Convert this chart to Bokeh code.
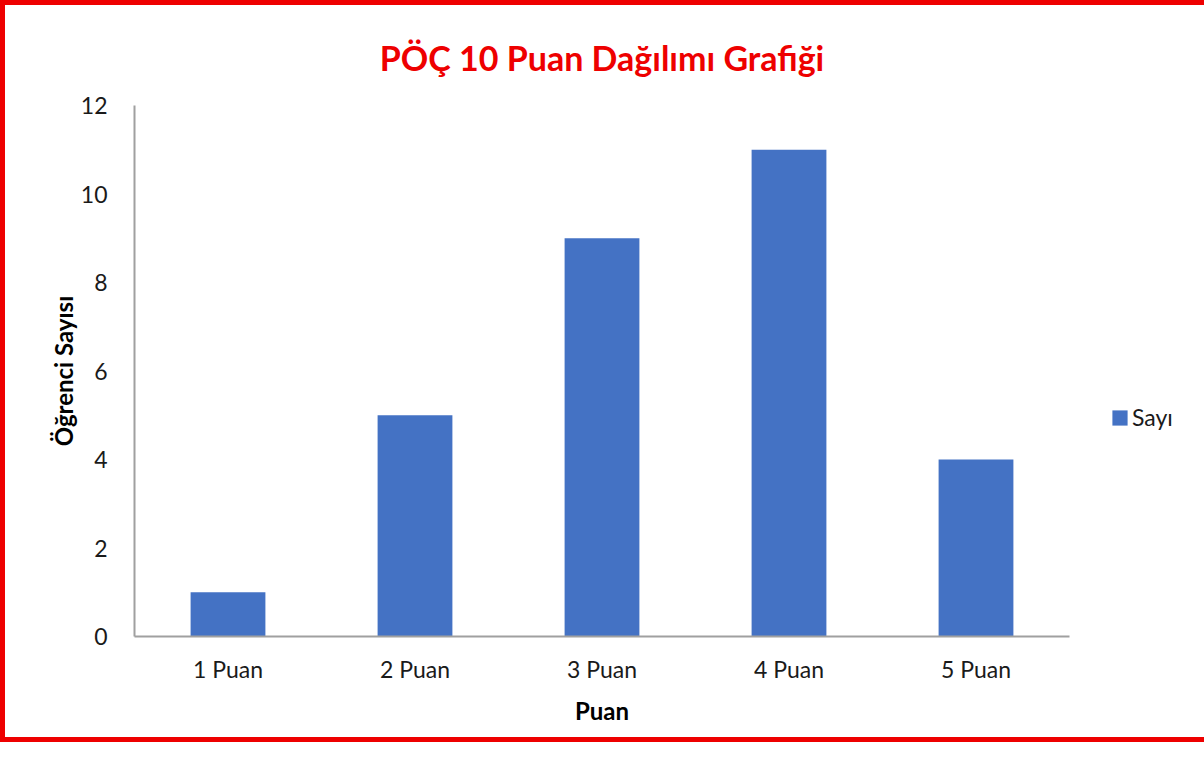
from bokeh.plotting import figure
from bokeh.layouts import column
from bokeh.models import FactorRange, Range1d, Legend, LegendItem, ColumnDataSource
from bokeh.embed import file_html
from bokeh.resources import INLINE

categories = ["1 Puan", "2 Puan", "3 Puan", "4 Puan", "5 Puan"]
counts = [1, 5, 9, 11, 4]
series_name = "Sayı"
y_ticks = [0, 2, 4, 6, 8, 10, 12]

FONT = "Lato"
B = 5
W, H = 1188 - 2 * B, 742 - 2 * B
FL, FR, FT, FB = 134, 1069, 105, 636
src = ColumnDataSource(dict(x=categories, y=counts))

p = figure(frame_width=FR - FL, frame_height=FB - FT,
           x_range=FactorRange(*categories), y_range=Range1d(0, 12),
           output_backend="svg", toolbar_location=None,
           min_border_left=FL - B, min_border_right=W - (FR - B), min_border_top=FT - B,
           min_border_bottom=H - (FB - B))
p.outline_line_color = None
p.xgrid.grid_line_color = None
p.ygrid.grid_line_color = None
p.x_range.range_padding = 0
p.x_range.factor_padding = 0

r = p.vbar(x="x", top="y", width=0.4, source=src, fill_color="#4472C4", line_color=None)

p.title.text = "PÖÇ 10 Puan Dağılımı Grafiği"
p.title.align = "center"
p.title.text_color = "#EE0000"
p.title.text_font = FONT
p.title.text_font_size = "34px"
p.title.text_font_style = "bold"
p.title.offset = 0
p.title.standoff = 56

for ax in (p.xaxis[0], p.yaxis[0]):
    ax.axis_line_color = "#A0A0A0"
    ax.axis_line_width = 2
    ax.major_tick_line_color = None
    ax.minor_tick_line_color = None
    ax.major_label_text_font = FONT
    ax.major_label_text_font_size = "23px"
    ax.major_label_text_color = "#1a1a1a"
    ax.axis_label_text_font = FONT
    ax.axis_label_text_font_size = "24px"
    ax.axis_label_text_font_style = "bold"
    ax.axis_label_text_color = "#000000"

p.yaxis.ticker = y_ticks
p.yaxis.major_label_standoff = 21
p.yaxis.axis_label = "Öğrenci Sayısı"
p.yaxis.axis_label_standoff = 0
p.xaxis.major_label_standoff = 12
p.xaxis.axis_label = "Puan"
p.xaxis.axis_label_standoff = 10

legend = Legend(items=[LegendItem(label=series_name, renderers=[r])],
                location=(41, 205), orientation="vertical")
legend.border_line_color = None
legend.background_fill_alpha = 0
legend.margin = 0
legend.padding = 0
legend.glyph_width = 19
legend.glyph_height = 19
legend.label_standoff = 3
legend.label_text_font = FONT
legend.label_text_font_size = "23px"
legend.label_text_color = "#1a1a1a"
p.add_layout(legend, "right")

layout = column(p, styles={"border": f"{B}px solid #EE0000", "background-color": "white"})

open("out.html", "w").write(file_html(layout, INLINE))
